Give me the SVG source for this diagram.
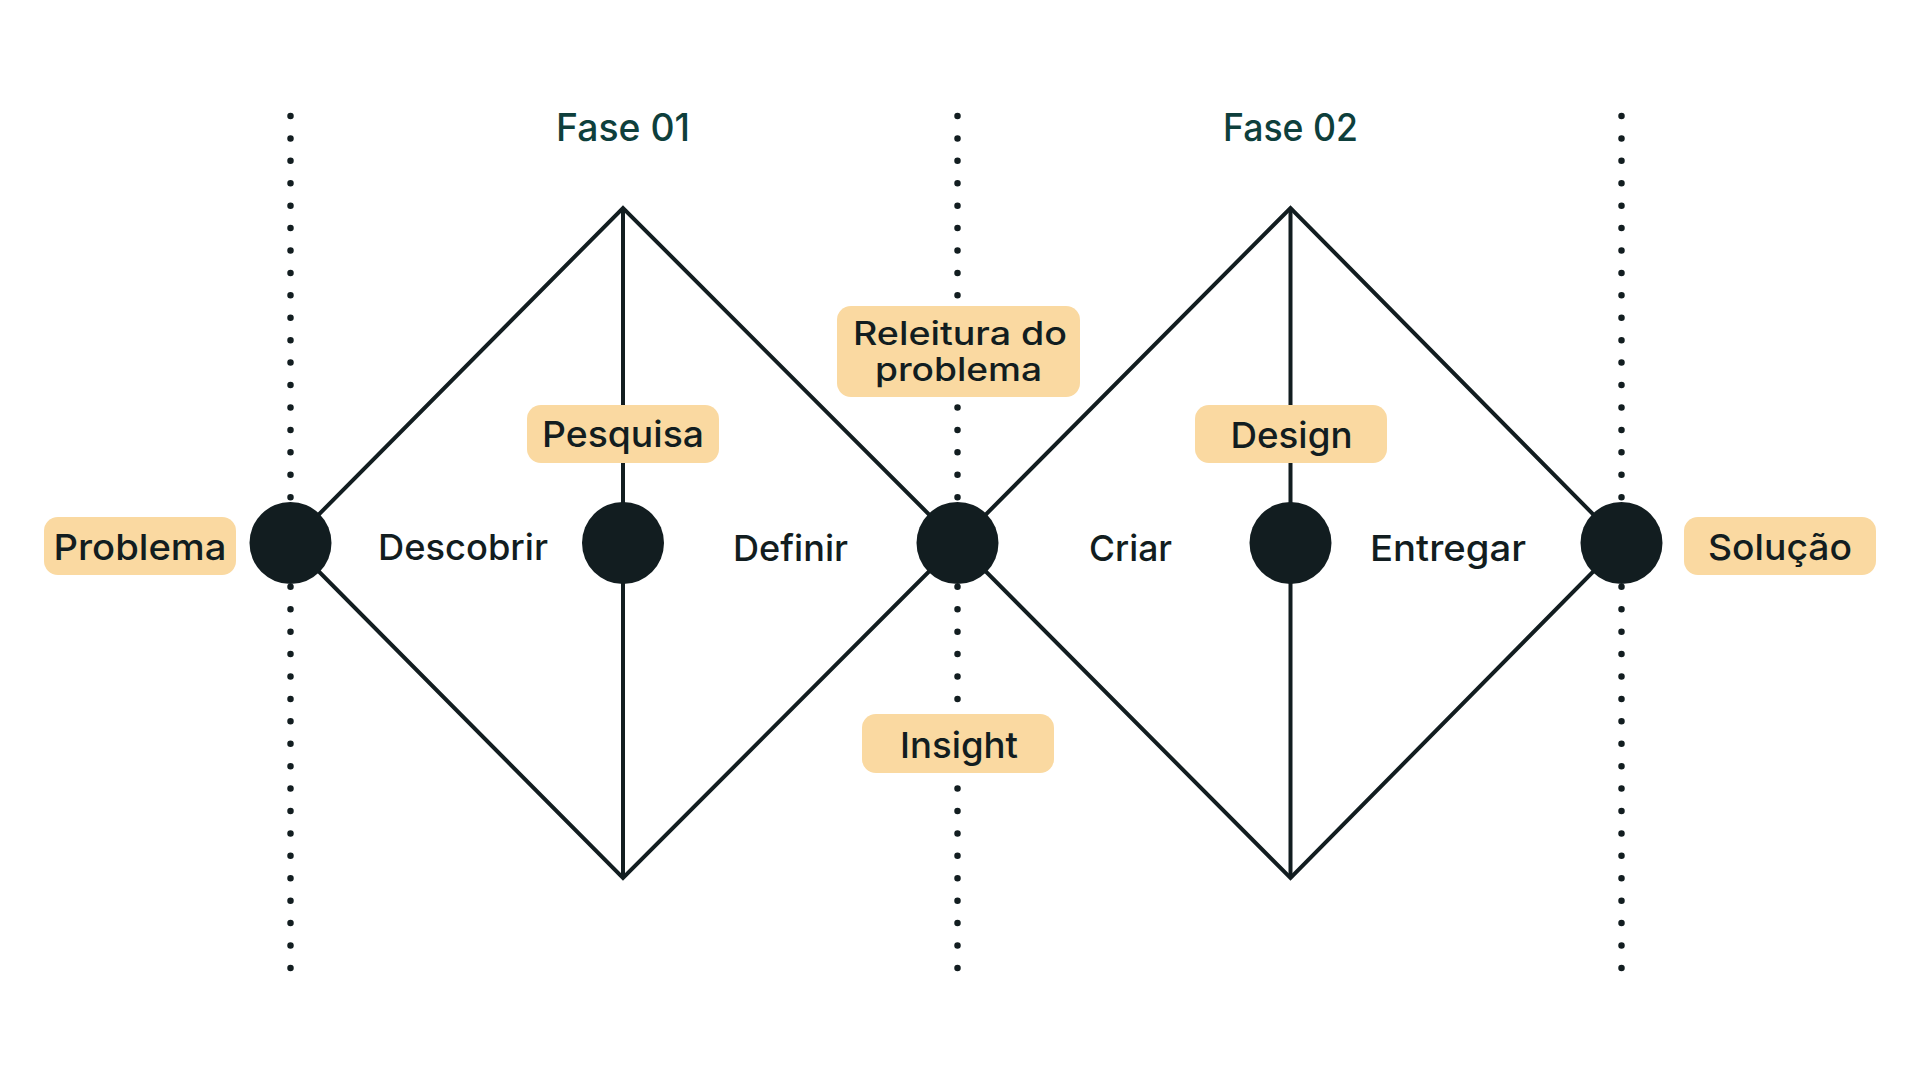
<svg xmlns="http://www.w3.org/2000/svg" width="1920" height="1080" viewBox="0 0 1920 1080">
  <style>
    .guide { stroke: #121d20; stroke-width: 6.5; stroke-linecap: round; stroke-dasharray: 0 22.42; fill: none; }
    .edge { stroke: #121d20; stroke-width: 4; fill: none; stroke-linejoin: miter; }
    .dot { fill: #121d20; }
    .pill { fill: #fad9a1; }
    .lbl { font-family: "Inter", "Noto Sans", "DejaVu Sans", sans-serif; font-weight: 500; font-size: 36px; fill: #121d20; text-anchor: middle; }
    .lbl2 { font-family: "Inter", "Noto Sans", "DejaVu Sans", sans-serif; font-weight: 500; font-size: 32px; fill: #121d20; text-anchor: middle; }
    .phase { font-family: "Inter", "Noto Sans", "DejaVu Sans", sans-serif; font-weight: 500; font-size: 38px; fill: #0e3f3c; text-anchor: middle; }
  </style>
  <rect x="0" y="0" width="1920" height="1080" fill="#ffffff"/>

  <g id="guides">
    <line class="guide" x1="290.5" y1="116" x2="290.5" y2="968"/>
    <line class="guide" x1="957.5" y1="116" x2="957.5" y2="968"/>
    <line class="guide" x1="1621.5" y1="116" x2="1621.5" y2="968"/>
  </g>

  <g id="phases">
    <text class="phase" x="623" y="141" textLength="134" lengthAdjust="spacingAndGlyphs">Fase 01</text>
    <text class="phase" x="1290.5" y="141" textLength="135" lengthAdjust="spacingAndGlyphs">Fase 02</text>
  </g>

  <g id="connectors">
    <path class="edge" d="M290.5 543 L623 208 L957.5 543 L623 878 Z"/>
    <path class="edge" d="M623 208 V878"/>
    <path class="edge" d="M957.5 543 L1290.5 208 L1621.5 543 L1290.5 878 Z"/>
    <path class="edge" d="M1290.5 208 V878"/>
  </g>

  <g id="node-problema">
    <circle class="dot" cx="290.5" cy="543" r="41"/>
    <rect class="pill" x="44" y="517" width="192" height="58" rx="14"/>
    <text class="lbl" x="140" y="560" textLength="173" lengthAdjust="spacingAndGlyphs">Problema</text>
  </g>

  <g id="node-descobrir">
    <text class="lbl" x="463" y="560" textLength="170" lengthAdjust="spacingAndGlyphs">Descobrir</text>
  </g>

  <g id="node-pesquisa">
    <circle class="dot" cx="623" cy="543" r="41"/>
    <rect class="pill" x="527" y="405" width="192" height="58" rx="14"/>
    <text class="lbl" x="623" y="447" textLength="162" lengthAdjust="spacingAndGlyphs">Pesquisa</text>
  </g>

  <g id="node-definir">
    <text class="lbl" x="790.5" y="561" textLength="115" lengthAdjust="spacingAndGlyphs">Definir</text>
  </g>

  <g id="node-releitura">
    <circle class="dot" cx="957.5" cy="543" r="41"/>
    <rect class="pill" x="837" y="306" width="243" height="91" rx="14"/>
    <text class="lbl2" x="960" y="345" textLength="214" lengthAdjust="spacingAndGlyphs">Releitura do</text>
    <text class="lbl2" x="958.5" y="381" textLength="167" lengthAdjust="spacingAndGlyphs">problema</text>
  </g>

  <g id="node-insight">
    <rect class="pill" x="862" y="714" width="192" height="59" rx="14"/>
    <text class="lbl" x="959" y="758" textLength="118" lengthAdjust="spacingAndGlyphs">Insight</text>
  </g>

  <g id="node-criar">
    <text class="lbl" x="1130.5" y="561" textLength="83" lengthAdjust="spacingAndGlyphs">Criar</text>
  </g>

  <g id="node-design">
    <circle class="dot" cx="1290.5" cy="543" r="41"/>
    <rect class="pill" x="1195" y="405" width="192" height="58" rx="14"/>
    <text class="lbl" x="1291.5" y="448" textLength="122" lengthAdjust="spacingAndGlyphs">Design</text>
  </g>

  <g id="node-entregar">
    <text class="lbl" x="1448" y="561" textLength="156" lengthAdjust="spacingAndGlyphs">Entregar</text>
  </g>

  <g id="node-solucao">
    <circle class="dot" cx="1621.5" cy="543" r="41"/>
    <rect class="pill" x="1684" y="517" width="192" height="58" rx="14"/>
    <text class="lbl" x="1780" y="560" textLength="144" lengthAdjust="spacingAndGlyphs">Solução</text>
  </g>
</svg>
